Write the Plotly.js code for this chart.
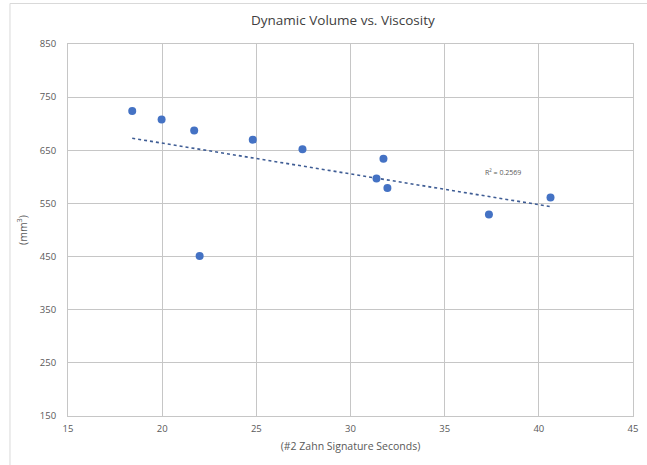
<!DOCTYPE html>
<html>
<head>
<meta charset="utf-8">
<script src="https://cdn.plot.ly/plotly-3.0.1.min.js"></script>
<style>
  html, body { margin: 0; padding: 0; background: #fff; }
  #chart { width: 647px; height: 465px; }
</style>
</head>
<body>
<div id="chart"></div>
<script>
// Zahn cup seconds vs. dynamic volume
const zahnSeconds = [18.41, 19.97, 21.70, 24.81, 27.45, 31.75, 31.38, 31.96, 21.99, 37.35, 40.62];
const volumeMm3   = [724, 708, 687, 670, 652, 634, 597, 579, 451, 529, 561];
const xTicks = [15, 20, 25, 30, 35, 40, 45];
const yTicks = [150, 250, 350, 450, 550, 650, 750, 850];
const r2Label = "R\u00b2 = 0.2569";

const POINT = "#4472C4";
const TREND = "#3E5C94";
const GRID = "#C6C6C6";
const TEXT = "#595959";
const FONT = "Open Sans, Liberation Sans, sans-serif";

// least-squares fit, same as the spreadsheet linear trendline
function linearFit(xs, ys) {
  const n = xs.length;
  const mx = xs.reduce((a, b) => a + b, 0) / n;
  const my = ys.reduce((a, b) => a + b, 0) / n;
  let sxy = 0, sxx = 0;
  for (let i = 0; i < n; i++) {
    sxy += (xs[i] - mx) * (ys[i] - my);
    sxx += (xs[i] - mx) * (xs[i] - mx);
  }
  const slope = sxy / sxx;
  return { slope, icpt: my - slope * mx };
}
const fit = linearFit(zahnSeconds, volumeMm3);
const xLo = Math.min(...zahnSeconds), xHi = Math.max(...zahnSeconds);

const traces = [
  {
    x: [xLo, xHi], y: [fit.icpt + fit.slope * xLo, fit.icpt + fit.slope * xHi],
    mode: "lines", line: { color: TREND, width: 1.6, dash: "dot" },
    hoverinfo: "skip", showlegend: false,
  },
  {
    x: zahnSeconds, y: volumeMm3, mode: "markers",
    marker: { color: POINT, size: 8 }, showlegend: false,
  },
];

const axisBase = {
  showgrid: true, gridcolor: GRID, gridwidth: 1,
  showline: true, linecolor: GRID, linewidth: 1, mirror: true,
  zeroline: false, ticks: "", tickfont: { family: FONT, size: 9.5, color: TEXT },
  tickmode: "array",
};

const layout = {
  width: 647, height: 465,
  paper_bgcolor: "#fff", plot_bgcolor: "#fff",
  margin: { l: 68, r: 14, t: 43.5, b: 49.1 },
  font: { family: FONT, color: TEXT },
  title: {
    text: "Dynamic Volume vs. Viscosity",
    font: { family: FONT, size: 13.5, color: "#404040" },
    xref: "container", x: 0.53, xanchor: "center",
    yref: "container", y: 0.957, yanchor: "middle",
  },
  xaxis: Object.assign({}, axisBase, {
    range: [15, 45], tickvals: xTicks, ticklabelstandoff: 4,
    title: { text: "(#2 Zahn Signature Seconds)", font: { family: FONT, size: 10.5, color: TEXT }, standoff: 8 },
  }),
  yaxis: Object.assign({}, axisBase, {
    range: [150, 850], tickvals: yTicks, ticklabelstandoff: 9,
    title: { text: "(mm<sup>3</sup>)", font: { family: FONT, size: 10.5, color: TEXT }, standoff: 10 },
  }),
  annotations: [{
    x: 38.1, y: 608, xref: "x", yref: "y", text: r2Label, showarrow: false,
    font: { family: FONT, size: 7, color: TEXT },
  }],
  shapes: [{
    type: "rect", xref: "paper", yref: "paper", layer: "below",
    x0: -0.1027, x1: 1.05, y0: -0.2, y1: 1.1088,
    line: { color: "#D9D9D9", width: 1 }, fillcolor: "rgba(0,0,0,0)",
  }],
};

Plotly.newPlot("chart", traces, layout, { displayModeBar: false, staticPlot: true });
</script>
</body>
</html>
